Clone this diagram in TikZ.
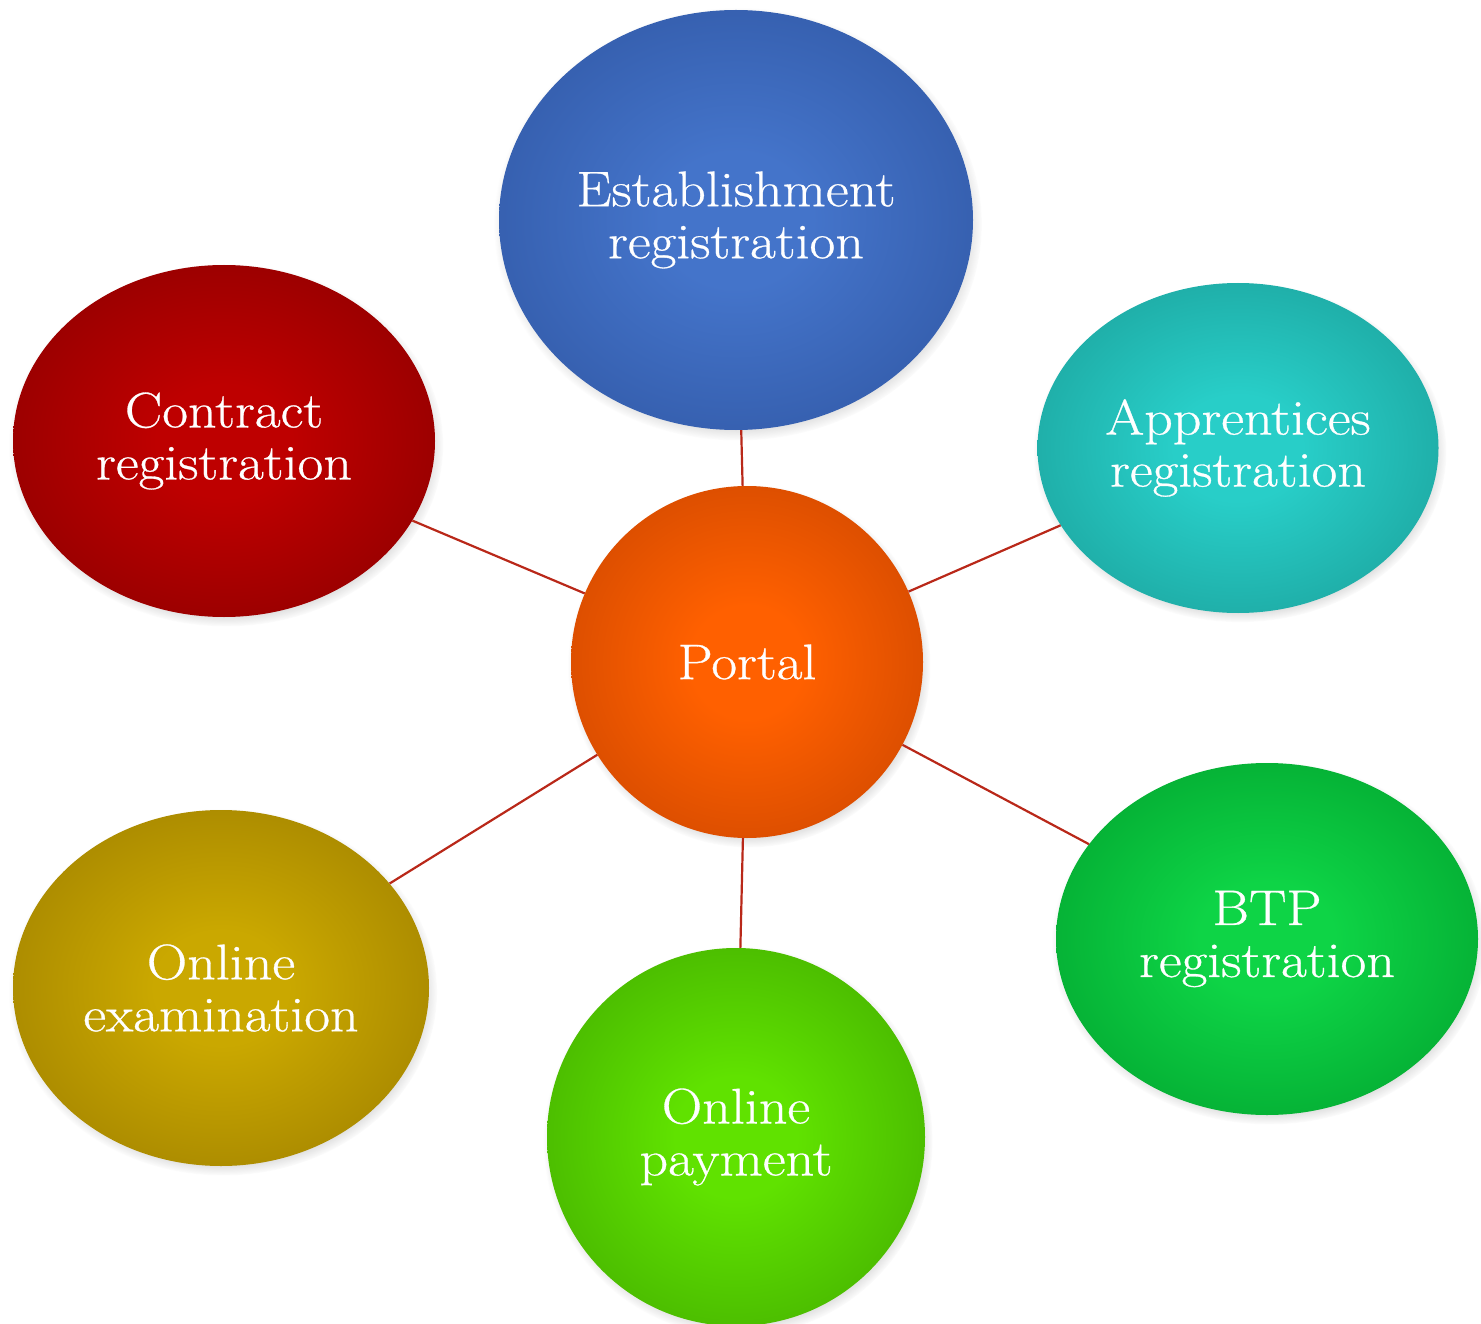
\documentclass[tikz,border=0pt]{standalone}
\usepackage{fontspec}
\setmainfont{Latin Modern Roman}[FakeStretch=1.12,FakeBold=0.6]
\usetikzlibrary{shapes.geometric,shadows,fadings}
\definecolor{ballin}{rgb}{1,1,1}
\definecolor{ballout}{rgb}{0,0,0}
\pgfdeclareradialshading[ballin,ballout]{ball}{\pgfpoint{0bp}{0bp}}{color(0bp)=(ballin); color(8bp)=(ballin); color(36bp)=(ballout); color(60bp)=(ballout)}
\definecolor{linkred}{RGB}{185,40,25}
\tikzset{
  ballcols/.code 2 args={\colorlet{ballin}{#1}\colorlet{ballout}{#2}},
  bubble/.style={ellipse, inner sep=0pt, align=center, text=white,
    font=\fontsize{50}{52}\selectfont, shading=ball,
    circular drop shadow={shadow xshift=2pt, shadow yshift=-4pt, shadow scale=1.03, opacity=0.6}},
  link/.style={draw=linkred, line width=2.2pt}
}
\begin{document}
\begin{tikzpicture}[x=1pt,y=-1pt]
\useasboundingbox (0,0) rectangle (1481,1324);
\node[bubble, ballcols={rgb,255:red,68;green,116;blue,202}{rgb,255:red,46;green,84;blue,160},
  minimum width=474pt, minimum height=420pt] (est) at (736,220) {Establishment\\registration};
\node[bubble, ballcols={rgb,255:red,190;green,0;blue,0}{rgb,255:red,135;green,0;blue,0},
  minimum width=422pt, minimum height=352pt] (con) at (224,441) {Contract\\registration};
\node[bubble, ballcols={rgb,255:red,40;green,206;blue,200}{rgb,255:red,26;green,156;blue,150},
  minimum width=401pt, minimum height=330pt] (app) at (1238,448) {Apprentices\\registration};
\node[bubble, ballcols={rgb,255:red,255;green,96;blue,0}{rgb,255:red,200;green,68;blue,0},
  minimum width=352pt, minimum height=352pt] (por) at (747,662) {Portal};
\node[bubble, ballcols={rgb,255:red,14;green,212;blue,70}{rgb,255:red,0;green,158;blue,44},
  minimum width=422pt, minimum height=352pt] (btp) at (1267,939) {BTP\\registration};
\node[bubble, ballcols={rgb,255:red,96;green,226;blue,0}{rgb,255:red,64;green,168;blue,0},
  minimum width=378pt, minimum height=378pt] (pay) at (736,1137) {Online\\payment};
\node[bubble, ballcols={rgb,255:red,202;green,168;blue,0}{rgb,255:red,155;green,124;blue,0},
  minimum width=416pt, minimum height=356pt] (exa) at (221,988) {Online\\examination};
\draw[link] (por) -- (est);
\draw[link] (por) -- (con);
\draw[link] (por) -- (app);
\draw[link] (por) -- (btp);
\draw[link] (por) -- (pay);
\draw[link] (por) -- (exa);
\end{tikzpicture}
\end{document}
